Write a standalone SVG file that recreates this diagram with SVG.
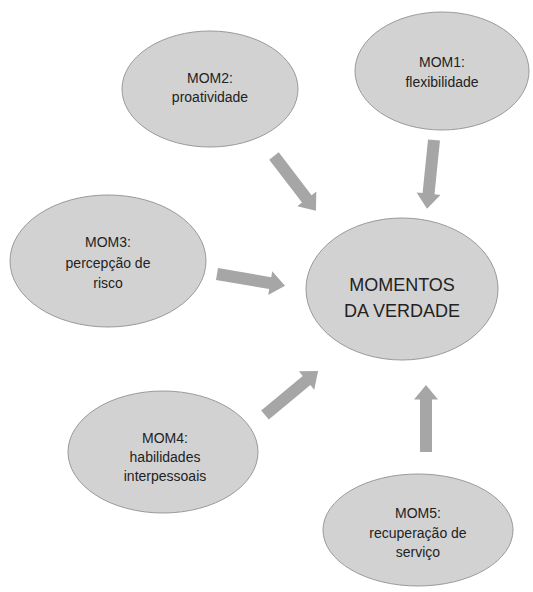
<svg xmlns="http://www.w3.org/2000/svg" width="533" height="592" viewBox="0 0 533 592">
<style>
.node ellipse{fill:#D2D2D2;stroke:#9A9A9A;stroke-width:1}
.node text{font-family:"Liberation Sans",Arial,sans-serif;font-size:14px;fill:#222;text-anchor:middle}
.node text.big{font-size:18px}
.arrow{fill:#A6A6A6}
</style>
<defs>
<polygon id="blk" points="0,-6 54,-6 54,-12 69,0 54,12 54,6 0,6"/>
</defs>
<rect width="533" height="592" fill="#fff"/>
<g id="connectors">
<use href="#blk" class="arrow" transform="translate(274,156) rotate(52.6)"/>
<use href="#blk" class="arrow" transform="translate(434,140) rotate(95.8)"/>
<use href="#blk" class="arrow" transform="translate(217,274) rotate(9.7)"/>
<use href="#blk" class="arrow" transform="translate(265,415) rotate(-39.7)"/>
<use href="#blk" class="arrow" transform="translate(426,452) rotate(-90) scale(0.97,1)"/>
</g>
<g id="mom2" class="node"><ellipse cx="210" cy="89" rx="88" ry="58"/><text x="210" y="83">MOM2:</text><text x="210" y="102">proatividade</text></g>
<g id="mom1" class="node"><ellipse cx="442" cy="71" rx="87" ry="59"/><text x="442" y="67">MOM1:</text><text x="442" y="87">flexibilidade</text></g>
<g id="mom3" class="node"><ellipse cx="108" cy="261" rx="98" ry="66"/><text x="108" y="247">MOM3:</text><text x="108" y="268">percepção de</text><text x="108" y="288">risco</text></g>
<g id="centro" class="node"><ellipse cx="402" cy="289" rx="96" ry="71"/><text class="big" x="402" y="291">MOMENTOS</text><text class="big" x="402" y="317">DA VERDADE</text></g>
<g id="mom4" class="node"><ellipse cx="163" cy="452" rx="95" ry="61"/><text x="165" y="443">MOM4:</text><text x="165" y="462">habilidades</text><text x="165" y="481">interpessoais</text></g>
<g id="mom5" class="node"><ellipse cx="418" cy="530" rx="95" ry="56"/><text x="418" y="518">MOM5:</text><text x="418" y="538">recuperação de</text><text x="418" y="557">serviço</text></g>
</svg>
